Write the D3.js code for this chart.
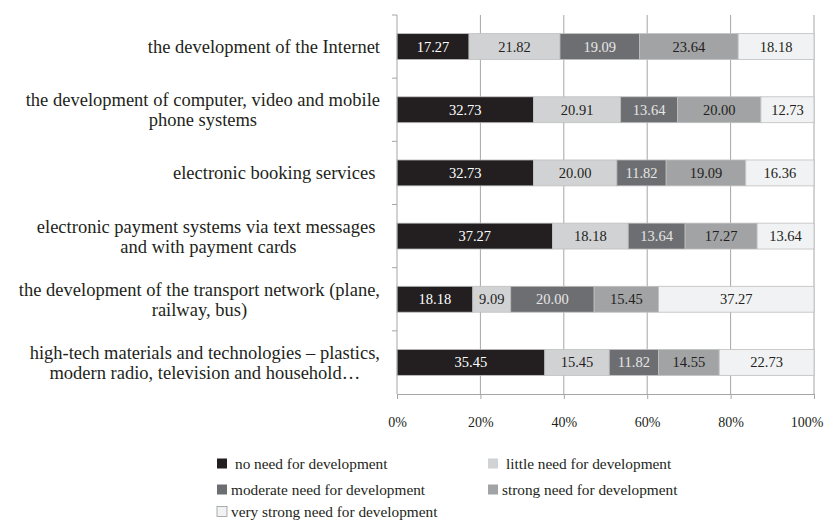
<!DOCTYPE html>
<html>
<head>
<meta charset="utf-8">
<script src="https://cdn.jsdelivr.net/npm/d3@7"></script>
<style>
  body { margin: 0; background: #fff; }
  svg { font-family: "Liberation Serif", "Times New Roman", serif; }
  .cat text { white-space: pre; }
</style>
</head>
<body>
<svg id="chart" width="826" height="522"></svg>
<script>
// categories, top to bottom (line breaks as in the picture)
const categories = [
  ["the development of the Internet"],
  ["the development of computer, video and mobile", "phone systems"],
  ["electronic booking services "],
  ["electronic payment systems via text messages ", "and with payment cards"],
  ["the development of the transport network (plane,", "railway, bus)"],
  ["high-tech materials and technologies \u2013 plastics,", "modern radio, television and household\u2026"]
];

const seriesNames = [
  "no need for development",
  "little need for development",
  "moderate need for development",
  "strong need for development",
  "very strong need for development"
];

const noNeed      = [17.27, 32.73, 32.73, 37.27, 18.18, 35.45];
const littleNeed  = [21.82, 20.91, 20.00, 18.18, 9.09, 15.45];
const moderate    = [19.09, 13.64, 11.82, 13.64, 20.00, 11.82];
const strong      = [23.64, 20.00, 19.09, 17.27, 15.45, 14.55];
const veryStrong  = [18.18, 12.73, 16.36, 13.64, 37.27, 22.73];

const xTicks = [0, 0.2, 0.4, 0.6, 0.8, 1];

const fills = ["#231f20", "#d1d2d4", "#6d6e71", "#a2a3a5", "#f1f2f4"];
const textFills = ["#ffffff", "#231f20", "#e6e6e6", "#231f20", "#231f20"];

const svg = d3.select("#chart");
const margin = { left: 397, right: 12, top: 15, bottom: 128 };
const W = 826, H = 522;

const x = d3.scaleLinear().domain([0, 1]).range([margin.left, W - margin.right]);
const y = d3.scaleBand().domain(d3.range(categories.length))
  .range([margin.top, H - margin.bottom]).paddingInner(0.59).paddingOuter(0.295);
const yOuter = d3.scaleBand().domain(d3.range(categories.length))
  .range([margin.top, H - margin.bottom]);

const rows = categories.map((c, i) => {
  const vals = [noNeed[i], littleNeed[i], moderate[i], strong[i], veryStrong[i]];
  const total = d3.sum(vals);
  let acc = 0;
  return vals.map((v, k) => {
    const seg = { row: i, k, v, x0: acc / total, x1: (acc + v) / total };
    acc += v;
    return seg;
  });
});

// vertical gridlines
svg.append("g").selectAll("line").data(xTicks.slice(1)).join("line")
  .attr("x1", d => x(d)).attr("x2", d => x(d))
  .attr("y1", margin.top).attr("y2", H - margin.bottom)
  .attr("stroke", "#a6a6a6").attr("stroke-width", 1);

// bars
const segs = rows.flat();
svg.append("g").selectAll("rect").data(segs).join("rect")
  .attr("x", d => x(d.x0)).attr("width", d => x(d.x1) - x(d.x0))
  .attr("y", d => y(d.row)).attr("height", y.bandwidth())
  .attr("fill", d => fills[d.k])
  .attr("stroke", "#bfbfbf").attr("stroke-width", 0.8);

svg.append("g").selectAll("text").data(segs).join("text")
  .attr("x", d => (x(d.x0) + x(d.x1)) / 2)
  .attr("y", d => y(d.row) + y.bandwidth() / 2)
  .attr("dy", "0.35em")
  .attr("text-anchor", "middle")
  .attr("font-size", 14.5)
  .attr("fill", d => textFills[d.k])
  .text(d => d.v.toFixed(2));

// x axis
const xAxis = svg.append("g").attr("transform", `translate(0,${H - margin.bottom})`)
  .call(d3.axisBottom(x).tickValues(xTicks).tickFormat(d3.format(".0%")).tickSize(5).tickPadding(18));
xAxis.select(".domain").attr("stroke", "#a6a6a6");
xAxis.selectAll(".tick line").attr("stroke", "#a6a6a6");
xAxis.selectAll("text").attr("font-size", 14).attr("fill", "#231f20")
  .attr("font-family", "Liberation Serif, serif");
// keep the last tick label inside the picture
xAxis.selectAll(".tick text").each(function (d) {
  const w = this.getComputedTextLength();
  const over = x(d) + w / 2 - (W - 3);
  if (over > 0) d3.select(this).attr("x", -over);
});

// y axis: ticks on band boundaries
const yAxisG = svg.append("g");
yAxisG.append("line").attr("x1", x(0)).attr("x2", x(0))
  .attr("y1", margin.top).attr("y2", H - margin.bottom).attr("stroke", "#a6a6a6");
yAxisG.selectAll(".bt").data(d3.range(categories.length)).join("line")
  .attr("x1", x(0) - 5).attr("x2", x(0))
  .attr("y1", d => yOuter(d)).attr("y2", d => yOuter(d))
  .attr("stroke", "#a6a6a6");

// category labels: block right-aligned, lines centred within block
const labelRight = 380;
const lineH = 20;
const cat = svg.append("g").attr("class", "cat");
categories.forEach((lines, i) => {
  const cy = yOuter(i) + yOuter.bandwidth() / 2;
  const g = cat.append("g");
  const texts = g.selectAll("text").data(lines).join("text")
    .attr("font-size", 18.5).attr("fill", "#231f20")
    .attr("y", (d, j) => cy + (j - (lines.length - 1) / 2) * lineH)
    .attr("dy", "0.35em")
    .attr("text-anchor", "middle")
    .text(d => d);
  const maxW = d3.max(texts.nodes(), n => n.getComputedTextLength());
  texts.attr("x", labelRight - maxW / 2);
});

// legend
const legendPos = [
  { x: 217, y: 464, tx: 235 },
  { x: 488, y: 464, tx: 506 },
  { x: 217, y: 490, tx: 231 },
  { x: 488, y: 490, tx: 502 },
  { x: 217, y: 512, tx: 231 }
];
const leg = svg.append("g");
seriesNames.forEach((name, k) => {
  const p = legendPos[k];
  leg.append("rect").attr("x", p.x).attr("y", p.y - 5.5).attr("width", 10).attr("height", 10)
    .attr("fill", fills[k])
    .attr("stroke", k === 4 ? "#9a9a9a" : "none").attr("stroke-width", 0.8);
  leg.append("text").attr("x", p.tx).attr("y", p.y).attr("dy", "0.35em")
    .attr("font-size", 15.3).attr("fill", "#231f20").text(name);
});
</script>
</body>
</html>
